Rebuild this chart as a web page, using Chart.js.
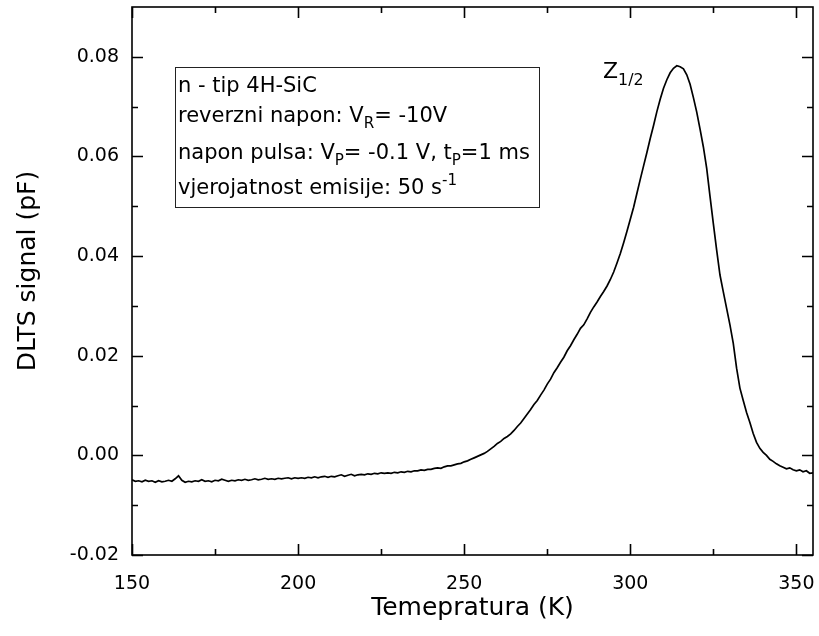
<!DOCTYPE html>
<html>
<head>
<meta charset="utf-8">
<script src="https://cdn.jsdelivr.net/npm/chart.js@4.4.0/dist/chart.umd.min.js"></script>
<style>
  html, body { margin: 0; padding: 0; background: #fff; }
</style>
</head>
<body>
<canvas id="dlts" width="819" height="636"></canvas>
<script>
// DLTS spectrum, n-type 4H-SiC, one point per kelvin
const temperature = [
  150, 151, 152, 153, 154, 155, 156, 157, 158, 159,
  160, 161, 162, 163, 164, 165, 166, 167, 168, 169,
  170, 171, 172, 173, 174, 175, 176, 177, 178, 179,
  180, 181, 182, 183, 184, 185, 186, 187, 188, 189,
  190, 191, 192, 193, 194, 195, 196, 197, 198, 199,
  200, 201, 202, 203, 204, 205, 206, 207, 208, 209,
  210, 211, 212, 213, 214, 215, 216, 217, 218, 219,
  220, 221, 222, 223, 224, 225, 226, 227, 228, 229,
  230, 231, 232, 233, 234, 235, 236, 237, 238, 239,
  240, 241, 242, 243, 244, 245, 246, 247, 248, 249,
  250, 251, 252, 253, 254, 255, 256, 257, 258, 259,
  260, 261, 262, 263, 264, 265, 266, 267, 268, 269,
  270, 271, 272, 273, 274, 275, 276, 277, 278, 279,
  280, 281, 282, 283, 284, 285, 286, 287, 288, 289,
  290, 291, 292, 293, 294, 295, 296, 297, 298, 299,
  300, 301, 302, 303, 304, 305, 306, 307, 308, 309,
  310, 311, 312, 313, 314, 315, 316, 317, 318, 319,
  320, 321, 322, 323, 324, 325, 326, 327, 328, 329,
  330, 331, 332, 333, 334, 335, 336, 337, 338, 339,
  340, 341, 342, 343, 344, 345, 346, 347, 348, 349,
  350, 351, 352, 353, 354, 355
];

const dltsSignal = [
  -0.0049, -0.0052, -0.0051, -0.0053, -0.0050, -0.0052, -0.0051, -0.0054, -0.0051, -0.0053,
  -0.0052, -0.0050, -0.0052, -0.0047, -0.0041, -0.0050, -0.0054, -0.0052, -0.0053, -0.0051,
  -0.0052, -0.0049, -0.0052, -0.0051, -0.0053, -0.0050, -0.0051, -0.0048, -0.0050, -0.0052,
  -0.0050, -0.0051, -0.0049, -0.0050, -0.0048, -0.0050, -0.0049, -0.0047, -0.0049, -0.0048,
  -0.0046, -0.0048, -0.0047, -0.0048, -0.0046, -0.0047, -0.0046, -0.0045, -0.0047, -0.0045,
  -0.0046, -0.0045, -0.0046, -0.0044, -0.0045, -0.0043, -0.0045, -0.0043, -0.0042, -0.0044,
  -0.0042, -0.0043, -0.0041, -0.0039, -0.0042, -0.0040, -0.0038, -0.0041, -0.0039, -0.0038,
  -0.0039, -0.0037, -0.0038, -0.0036, -0.0037, -0.0035, -0.0036, -0.0035, -0.0036, -0.0034,
  -0.0035, -0.0033, -0.0034, -0.0032, -0.0033, -0.0031, -0.0031, -0.0029, -0.0030, -0.0028,
  -0.0028, -0.0026, -0.0025, -0.0026, -0.0023, -0.0021, -0.0021, -0.0019, -0.0017, -0.0016,
  -0.0013, -0.0011, -0.0008, -0.0005, -0.0002, 0.0001, 0.0004, 0.0008, 0.0013, 0.0018,
  0.0024, 0.0028, 0.0034, 0.0038, 0.0043, 0.0050, 0.0058, 0.0065, 0.0074, 0.0083,
  0.0092, 0.0102, 0.0110, 0.0121, 0.0131, 0.0143, 0.0153, 0.0166, 0.0176, 0.0187,
  0.0197, 0.0210, 0.0220, 0.0232, 0.0243, 0.0255, 0.0262, 0.0274, 0.0287, 0.0298,
  0.0308, 0.0319, 0.0329, 0.0340, 0.0353, 0.0368, 0.0386, 0.0405, 0.0427, 0.0450,
  0.0474, 0.0498, 0.0526, 0.0554, 0.0581, 0.0608, 0.0636, 0.0662, 0.0690, 0.0715,
  0.0737, 0.0754, 0.0768, 0.0777, 0.0782, 0.0780, 0.0776, 0.0764, 0.0745, 0.0718,
  0.0689, 0.0655, 0.0619, 0.0576, 0.0520, 0.0465, 0.0412, 0.0362, 0.0328, 0.0295,
  0.0262, 0.0225, 0.0175, 0.0135, 0.0110, 0.0086, 0.0066, 0.0044, 0.0026, 0.0014,
  0.0006, 0.0000, -0.0008, -0.0012, -0.0017, -0.0021, -0.0024, -0.0027, -0.0025, -0.0029,
  -0.0031, -0.0029, -0.0033, -0.0031, -0.0036, -0.0035
];

const xRange = [150, 355];
const yRange = [-0.02, 0.09];
const xStep = 50;
const yStep = 0.02;

const FONT = "'DejaVu Sans', sans-serif";

// draws a line of text made of normal / sub / sup pieces
function richText(ctx, x, y, parts, size) {
  let cx = x;
  parts.forEach(p => {
    const s = p.sub || p.sup ? size * 0.72 : size;
    ctx.font = s + 'px ' + FONT;
    const dy = p.sub ? size * 0.3 : (p.sup ? -size * 0.42 : 0);
    ctx.fillText(p.t, cx, y + dy);
    cx += ctx.measureText(p.t).width;
  });
}

// fixed scale sizes, and no extra room for the edge labels
function pinScale(size, horizontal) {
  return s => {
    if (horizontal) s.height = size; else s.width = size;
    s.paddingTop = s.paddingBottom = s.paddingLeft = s.paddingRight = 0;
  };
}

// axis box with inward ticks on all four sides, plus text
const framePlugin = {
  id: 'frame',
  afterDraw(chart) {
    const ctx = chart.ctx;
    const a = chart.chartArea;
    const xs = chart.scales.x, ys = chart.scales.y;
    ctx.save();
    ctx.strokeStyle = '#000';
    ctx.lineWidth = 1.6;
    ctx.strokeRect(a.left, a.top, a.right - a.left, a.bottom - a.top);

    const major = 11, minor = 6;
    const tickSet = (scale) => {
      const vals = scale.ticks.map(t => t.value);
      const mins = [];
      for (let i = 0; i < vals.length; i++) {
        const step = i + 1 < vals.length ? vals[i + 1] - vals[i] : vals[i] - vals[i - 1];
        const m = vals[i] + step / 2;
        if (m < scale.max - 1e-9) mins.push(m);
        if (i === 0 && vals[0] - step / 2 > scale.min) mins.push(vals[0] - step / 2);
      }
      return [vals.map(v => [v, major]), mins.map(v => [v, minor])].flat();
    };
    ctx.beginPath();
    tickSet(xs).forEach(([v, len]) => {
      const px = Math.round(xs.getPixelForValue(v)) + 0.5;
      ctx.moveTo(px, a.bottom); ctx.lineTo(px, a.bottom - len);
      ctx.moveTo(px, a.top); ctx.lineTo(px, a.top + len);
    });
    tickSet(ys).forEach(([v, len]) => {
      const py = Math.round(ys.getPixelForValue(v)) + 0.5;
      ctx.moveTo(a.left, py); ctx.lineTo(a.left + len, py);
      ctx.moveTo(a.right, py); ctx.lineTo(a.right - len, py);
    });
    ctx.stroke();

    // axis titles
    ctx.fillStyle = '#000';
    ctx.font = '25px ' + FONT;
    ctx.textAlign = 'center';
    ctx.textBaseline = 'alphabetic';
    ctx.fillText('Temepratura (K)', (a.left + a.right) / 2, 615);
    ctx.save();
    ctx.translate(35, 271);
    ctx.rotate(-Math.PI / 2);
    ctx.fillText('DLTS signal (pF)', 0, 0);
    ctx.restore();

    // measurement conditions
    ctx.textAlign = 'left';
    ctx.lineWidth = 1;
    ctx.strokeStyle = '#222';
    ctx.strokeRect(175.5, 67.5, 364, 140);
    const fs = 21;
    richText(ctx, 178, 92, [{ t: 'n - tip 4H-SiC' }], fs);
    richText(ctx, 178, 122, [{ t: 'reverzni napon: V' }, { t: 'R', sub: true }, { t: '= -10V' }], fs);
    richText(ctx, 178, 159, [{ t: 'napon pulsa: V' }, { t: 'P', sub: true }, { t: '= -0.1 V, t' }, { t: 'P', sub: true }, { t: '=1 ms' }], fs);
    richText(ctx, 178, 194, [{ t: 'vjerojatnost emisije: 50 s' }, { t: '-1', sup: true }], fs);

    // peak label
    richText(ctx, 603, 78, [{ t: 'Z' }, { t: '1/2', sub: true }], 22);
    ctx.restore();
  }
};

const ctx = document.getElementById('dlts').getContext('2d');
new Chart(ctx, {
  type: 'line',
  data: {
    datasets: [{
      data: temperature.map((t, i) => ({ x: t, y: dltsSignal[i] })),
      borderColor: '#000',
      borderWidth: 1.7,
      pointRadius: 0,
      tension: 0,
      fill: false
    }]
  },
  options: {
    responsive: false,
    animation: false,
    devicePixelRatio: 1,
    layout: { padding: { top: 7, right: 6, left: 0, bottom: 0 } },
    plugins: { legend: { display: false }, tooltip: { enabled: false } },
    scales: {
      x: {
        type: 'linear',
        min: xRange[0],
        max: xRange[1],
        afterFit: pinScale(81, true),
        grid: { display: false },
        border: { display: false },
        ticks: {
          stepSize: xStep,
          includeBounds: false,
          maxRotation: 0,
          padding: 10,
          color: '#000',
          font: { family: FONT, size: 19 }
        }
      },
      y: {
        min: yRange[0],
        max: yRange[1],
        afterFit: pinScale(132, false),
        grid: { display: false },
        border: { display: false },
        ticks: {
          stepSize: yStep,
          includeBounds: false,
          padding: 5,
          color: '#000',
          font: { family: FONT, size: 19 },
          callback: v => v.toFixed(2)
        }
      }
    }
  },
  plugins: [framePlugin]
});
</script>
</body>
</html>
